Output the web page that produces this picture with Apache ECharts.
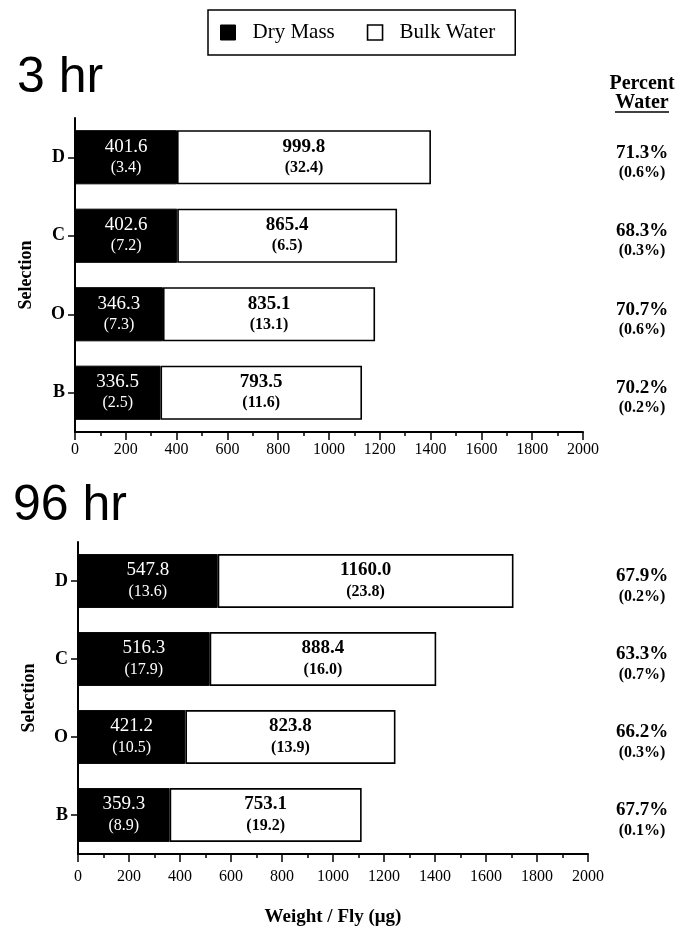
<!DOCTYPE html>
<html><head><meta charset="utf-8">
<script src="https://cdn.jsdelivr.net/npm/echarts@6/dist/echarts.min.js"></script>
<style>html,body{margin:0;padding:0;background:#fff}#c{width:692px;height:928px}</style>
</head><body><div id="c"></div>
<script>
// ---- data ----
const categories = ['D', 'C', 'O', 'B'];
const dry3 = [401.6, 402.6, 346.3, 336.5];
const dry3SE = ['3.4', '7.2', '7.3', '2.5'];
const water3 = [999.8, 865.4, 835.1, 793.5];
const water3SE = ['32.4', '6.5', '13.1', '11.6'];
const pct3 = ['71.3%', '68.3%', '70.7%', '70.2%'];
const pct3SE = ['0.6%', '0.3%', '0.6%', '0.2%'];
const dry96 = [547.8, 516.3, 421.2, 359.3];
const dry96SE = ['13.6', '17.9', '10.5', '8.9'];
const water96 = [1160.0, 888.4, 823.8, 753.1];
const water96SE = ['23.8', '16.0', '13.9', '19.2'];
const pct96 = ['67.9%', '63.3%', '66.2%', '67.7%'];
const pct96SE = ['0.2%', '0.7%', '0.3%', '0.1%'];
const xMin = 0, xMax = 2000, xStep = 200;

// ---- styles ----
const SERIF = '"Liberation Serif", "DejaVu Serif", serif';
const SANS = '"Liberation Sans", Arial, sans-serif';

function xAxis(gi, withName, labelMargin) {
  return {
    type: 'value', gridIndex: gi, min: xMin, max: xMax, interval: xStep,
    axisLine: { show: true, lineStyle: { color: '#000', width: 2 } },
    axisTick: { show: true, length: 8, lineStyle: { color: '#000', width: 1.5 } },
    minorTick: { show: true, splitNumber: 2, length: 4, lineStyle: { color: '#000', width: 1.5 } },
    splitLine: { show: false }, minorSplitLine: { show: false },
    axisLabel: { color: '#000', fontFamily: SERIF, fontSize: 16, margin: labelMargin, formatter: v => String(v) },
    name: withName ? 'Weight / Fly (\u03bcg)' : '',
    nameLocation: 'middle', nameGap: 54,
    nameTextStyle: { color: '#000', fontFamily: SERIF, fontSize: 19, fontWeight: 'bold' }
  };
}
function yAxisLeft(gi) {
  return {
    type: 'category', gridIndex: gi, data: categories, inverse: true,
    axisLine: { show: true, lineStyle: { color: '#000', width: 2 } },
    axisTick: { show: true, alignWithLabel: true, length: 7, lineStyle: { color: '#000', width: 1.5 } },
    axisLabel: { color: '#000', fontFamily: SERIF, fontSize: 18, fontWeight: 'bold', margin: 10 },
    name: 'Selection', nameLocation: 'middle', nameGap: 40, nameRotate: 90,
    nameTextStyle: { color: '#000', fontFamily: SERIF, fontSize: 18, fontWeight: 'bold' }
  };
}
function yAxisRight(gi, pct, pctSE, margin) {
  return {
    type: 'category', gridIndex: gi, data: categories, inverse: true, position: 'right',
    axisLine: { show: false }, axisTick: { show: false }, splitLine: { show: false },
    axisLabel: {
      margin: margin, align: 'center', lineHeight: 20, padding: [11, 0, 0, 0],
      formatter: (v, i) => '{p|' + pct[i] + '}\n{s|(' + pctSE[i] + ')}',
      rich: {
        p: { fontFamily: SERIF, fontSize: 19, fontWeight: 'bold', color: '#000', lineHeight: 20, align: 'center' },
        s: { fontFamily: SERIF, fontSize: 16, fontWeight: 'bold', color: '#000', lineHeight: 20, align: 'center' }
      }
    }
  };
}
function drySeries(xi, yi, stack, vals, se) {
  return {
    type: 'bar', name: 'Dry Mass', xAxisIndex: xi, yAxisIndex: yi, stack: stack,
    data: vals, barWidth: '69%',
    itemStyle: { color: '#000', borderColor: '#000', borderWidth: 1 },
    label: {
      show: true, position: 'inside',
      formatter: p => '{v|' + p.value.toFixed(1) + '}\n{s|(' + se[p.dataIndex] + ')}',
      rich: {
        v: { fontFamily: SERIF, fontSize: 19, color: '#fff', lineHeight: 21, align: 'center' },
        s: { fontFamily: SERIF, fontSize: 16, color: '#fff', lineHeight: 21, align: 'center' }
      }
    }
  };
}
function waterSeries(xi, yi, stack, vals, se) {
  return {
    type: 'bar', name: 'Bulk Water', xAxisIndex: xi, yAxisIndex: yi, stack: stack,
    data: vals, barWidth: '69%',
    itemStyle: { color: '#fff', borderColor: '#000', borderWidth: 1.6 },
    label: {
      show: true, position: 'inside',
      formatter: p => '{v|' + p.value.toFixed(1) + '}\n{s|(' + se[p.dataIndex] + ')}',
      rich: {
        v: { fontFamily: SERIF, fontSize: 19, fontWeight: 'bold', color: '#000', lineHeight: 21, align: 'center' },
        s: { fontFamily: SERIF, fontSize: 16, fontWeight: 'bold', color: '#000', lineHeight: 21, align: 'center' }
      }
    }
  };
}

const chart = echarts.init(document.getElementById('c'), null, { renderer: 'canvas' });
chart.setOption({
  animation: false,
  backgroundColor: '#fff',
  title: [
    { text: '3 hr', left: 17, top: 53, padding: 0, textStyle: { fontFamily: SANS, fontSize: 50, fontWeight: 'normal', color: '#000' } },
    { text: '96 hr', left: 13, top: 481, padding: 0, textStyle: { fontFamily: SANS, fontSize: 50, fontWeight: 'normal', color: '#000' } }
  ],
  legend: {
    left: 208, top: 10, selectedMode: false,
    data: [
      { name: 'Dry Mass', icon: 'rect', itemStyle: { color: '#000', borderColor: '#000', borderWidth: 1 } },
      { name: 'Bulk Water', icon: 'rect', itemStyle: { color: '#fff', borderColor: '#000', borderWidth: 1.6 } }
    ],
    itemWidth: 15, itemHeight: 15, itemGap: 32,
    borderColor: '#000', borderWidth: 1.5, padding: [12, 20, 12, 12],
    textStyle: { fontFamily: SERIF, fontSize: 21, color: '#000', padding: [0, 0, 0, 12] }
  },
  grid: [
    { left: 75, right: 109, top: 118, height: 314 },
    { left: 78, right: 104, top: 542, height: 312 }
  ],
  xAxis: [xAxis(0, false, 10), xAxis(1, true, 15)],
  yAxis: [
    yAxisLeft(0), yAxisRight(0, pct3, pct3SE, 59),
    yAxisLeft(1), yAxisRight(1, pct96, pct96SE, 54)
  ],
  series: [
    drySeries(0, 0, 't3', dry3, dry3SE),
    waterSeries(0, 0, 't3', water3, water3SE),
    drySeries(1, 2, 't96', dry96, dry96SE),
    waterSeries(1, 2, 't96', water96, water96SE)
  ],
  graphic: [
    { type: 'text', style: { text: 'Percent', x: 642, y: 84, align: 'center', verticalAlign: 'middle', fontFamily: SERIF, fontSize: 20, fontWeight: 'bold', fill: '#000' } },
    { type: 'text', style: { text: 'Water', x: 642, y: 103, align: 'center', verticalAlign: 'middle', fontFamily: SERIF, fontSize: 20, fontWeight: 'bold', fill: '#000' } },
    { type: 'line', shape: { x1: 615, y1: 112, x2: 669, y2: 112 }, style: { stroke: '#000', lineWidth: 1.5 } }
  ]
});
</script></body></html>
